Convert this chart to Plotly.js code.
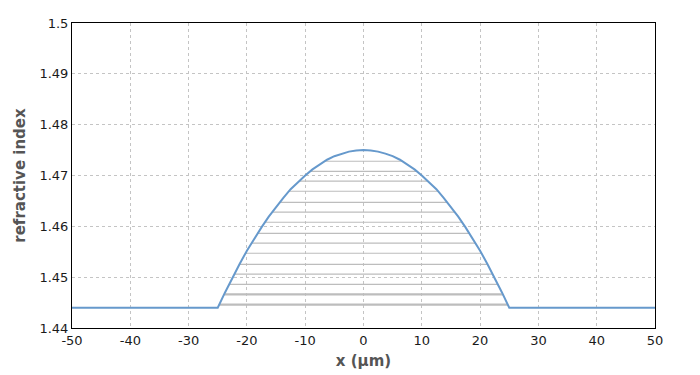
<!DOCTYPE html>
<html><head><meta charset="utf-8">
<script src="https://cdn.plot.ly/plotly-3.0.1.min.js"></script>
<style>html,body{margin:0;padding:0;background:#fff}#chart{width:700px;height:375px}</style>
</head><body><div id="chart"></div>
<script>
// refractive index profile
const profileX = [-50, -25, -23.75, -22.5, -21.25, -20, -18.75, -17.5, -16.25, -15, -13.75, -12.5, -11.25, -10, -8.75, -7.5, -6.25, -5, -3.75, -2.5, -1.25, 0,
                  1.25, 2.5, 3.75, 5, 6.25, 7.5, 8.75, 10, 11.25, 12.5, 13.75, 15, 16.25, 17.5, 18.75, 20, 21.25, 22.5, 23.75, 25, 50];
const profileN = [1.4440, 1.4440, 1.4470, 1.4499, 1.4526, 1.4552, 1.4576, 1.4598, 1.4619, 1.4638, 1.4656, 1.4673, 1.4687, 1.4700, 1.4712, 1.4722, 1.4731, 1.4738, 1.4743, 1.4747, 1.4749, 1.4750,
                  1.4749, 1.4747, 1.4743, 1.4738, 1.4731, 1.4722, 1.4712, 1.4700, 1.4687, 1.4673, 1.4656, 1.4638, 1.4619, 1.4598, 1.4576, 1.4552, 1.4526, 1.4499, 1.4470, 1.4440, 1.4440];
// effective indices of guided modes
const modeIndex = [1.4728, 1.4708, 1.4689, 1.4669, 1.4647, 1.4628, 1.4608, 1.4586, 1.4567, 1.4547, 1.4525, 1.4506, 1.4486, 1.4466, 1.4446];
const xTicks = [-50, -40, -30, -20, -10, 0, 10, 20, 30, 40, 50];
const yTicks = [1.44, 1.45, 1.46, 1.47, 1.48, 1.49, 1.5];
const yTickText = ['1.44', '1.45', '1.46', '1.47', '1.48', '1.49', '1.5'];

// find where the profile crosses a given index (left half), by linear interpolation
function crossing(level) {
  for (let i = 1; i < profileX.length; i++) {
    const n0 = profileN[i-1], n1 = profileN[i];
    if (n0 <= level && n1 >= level && n1 !== n0) {
      return profileX[i-1] + (level - n0) / (n1 - n0) * (profileX[i] - profileX[i-1]);
    }
  }
  return 0;
}

const traces = [];
modeIndex.forEach((m, k) => {
  const xl = crossing(m);
  traces.push({
    x: [xl, -xl], y: [m, m], mode: 'lines', type: 'scatter',
    line: {color: '#bdbdbd', width: k >= modeIndex.length - 2 ? 2.2 : 1.2},
    hoverinfo: 'skip', showlegend: false
  });
});
traces.push({
  x: profileX, y: profileN, mode: 'lines', type: 'scatter',
  line: {color: '#6699cc', width: 2}, showlegend: false
});

const axisCommon = {
  showgrid: true, gridcolor: '#c4c4c4', griddash: '3px,3px', gridwidth: 1,
  showline: true, linecolor: '#000', linewidth: 1, mirror: true,
  zeroline: false, ticks: '', ticklen: 0
};
const layout = {
  width: 700, height: 375,
  margin: {l: 72, r: 45, t: 23, b: 47},
  paper_bgcolor: '#fff', plot_bgcolor: '#fff',
  font: {family: 'DejaVu Sans, Verdana, sans-serif', size: 13, color: '#1a1a1a'},
  xaxis: Object.assign({}, axisCommon, {
    range: [-50, 50], tickvals: xTicks, ticktext: xTicks.map(String),
    title: {text: 'x (µm)', font: {size: 15, color: '#555', weight: 'bold'}, standoff: 8}
  }),
  yaxis: Object.assign({}, axisCommon, {
    range: [1.44, 1.5], tickvals: yTicks, ticktext: yTickText,
    title: {text: 'refractive index', font: {size: 15, color: '#555', weight: 'bold'}, standoff: 10}
  })
};
Plotly.newPlot('chart', traces, layout, {displayModeBar: false, staticPlot: true});
</script></body></html>
